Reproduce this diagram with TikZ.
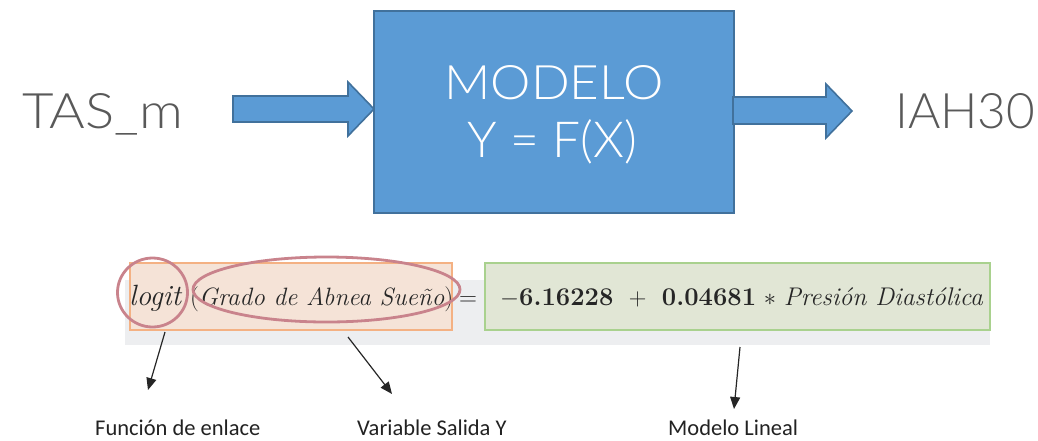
\documentclass[tikz,border=0pt]{standalone}
\usepackage{fontspec}
\newfontfamily\popf{Lato Light}
\newfontfamily\calf{Carlito}
\usetikzlibrary{arrows.meta}
\definecolor{blueF}{HTML}{5B9BD5}
\definecolor{blueD}{HTML}{41719C}
\definecolor{grayT}{HTML}{595959}
\definecolor{bandG}{HTML}{EDEEF0}
\definecolor{orgF}{HTML}{F5E3D7}
\definecolor{orgD}{HTML}{F4B183}
\definecolor{grnF}{HTML}{E1E6D5}
\definecolor{grnD}{HTML}{A9D18E}
\definecolor{ellC}{HTML}{C9838C}
\definecolor{lblT}{HTML}{222222}
\tikzset{
  bigtxt/.style={text=grayT, font=\popf\fontsize{49}{56}\selectfont, inner sep=0pt},
  modtxt/.style={text=white, font=\popf\fontsize{48}{54}\selectfont, inner sep=0pt},
  blockarrow/.style={fill=blueF, draw=blueD, line width=1.6pt, line join=miter},
  eqtxt/.style={font=\fontsize{26}{28}\selectfont, inner sep=0pt, text=black!85},
  lbl/.style={text=lblT, font=\calf\fontsize{22.5}{24}\selectfont, inner sep=0pt},
  ptr/.style={draw=black!85, line width=1.2pt, -{Triangle[length=12pt,width=10pt]}},
  ring/.style={draw=ellC, line width=2.8pt}
}
\begin{document}
\begin{tikzpicture}[x=1pt,y=-1pt]
\useasboundingbox (0,0) rectangle (1038,440);

% top block
\node[draw=blueD, fill=blueF, line width=2pt, minimum width=360pt, minimum height=202pt,
      anchor=north west, inner sep=0pt] (model) at (373,10) {};
\node[modtxt, anchor=base] (m1) at (554,99) {\resizebox{219pt}{34pt}{MODELO}};
\node[modtxt, anchor=base] (m2) at (552,157) {\resizebox{170pt}{!}{Y = F(X)}};

\node[bigtxt, anchor=base west] (in) at (22,128) {\resizebox{161pt}{35pt}{TAS\_m}};
\node[bigtxt, anchor=base west] (out) at (895,128) {\resizebox{140pt}{35pt}{IAH30}};

\draw[blockarrow] (233,96) -- (348,96) -- (348,82) -- (374,109) -- (348,136) -- (348,122) -- (233,122) -- cycle;
\draw[blockarrow] (733,97) -- (826,97) -- (826,84) -- (852,111) -- (826,138) -- (826,124) -- (733,124) -- cycle;

% equation band
\fill[bandG] (125,280) rectangle (990,345);
\draw[fill=orgF, draw=orgD, line width=2.6pt] (130,263) rectangle (452,330);
\draw[fill=grnF, draw=grnD, line width=2.6pt] (485,263) rectangle (990,330);

\node[eqtxt, anchor=base west] (lg) at (129,305) {\resizebox{52pt}{!}{\itshape logit}};
\node[eqtxt, anchor=base west] (gr) at (190,305) {\resizebox{263pt}{!}{(\textit{Grado de Abnea Sueño})}};
\node[eqtxt, anchor=base] (eq) at (468,305) {$=$};
\node[eqtxt, anchor=base west] (rhs) at (500,305) {\resizebox{483pt}{!}{$-$\textbf{6.16228}\ \ $+$\ \ \textbf{0.04681} $\ast$ \textit{Presión Diastólica}}};

\draw[ring] (152.5,292.5) ellipse [x radius=35pt, y radius=34.5pt];
\draw[ring] (326.5,289.5) ellipse [x radius=133.5pt, y radius=32.5pt];

% labels
\node[lbl, anchor=base west] (fe) at (95,435) {Función de enlace};
\node[lbl, anchor=base west] (vs) at (357,435) {Variable Salida Y};
\node[lbl, anchor=base west] (ml) at (668,435) {Modelo Lineal};

\coordinate (a1s) at (165,332);
\coordinate (a1e) at (148,390);
\coordinate (a2s) at (348,337);
\coordinate (a2e) at (392,394);
\coordinate (a3s) at (740,347);
\coordinate (a3e) at (734,409);
\draw[ptr] (a1s) -- (a1e);
\draw[ptr] (a2s) -- (a2e);
\draw[ptr] (a3s) -- (a3e);
\end{tikzpicture}
\end{document}
